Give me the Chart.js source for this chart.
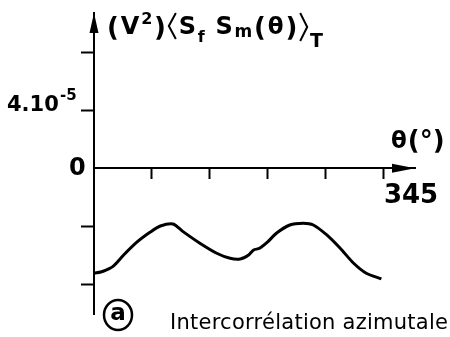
<!DOCTYPE html>
<html>
<head>
<meta charset="utf-8">
<script src="https://cdn.jsdelivr.net/npm/chart.js@4.4.1/dist/chart.umd.min.js"></script>
<style>
html,body{margin:0;padding:0;background:#fff}
#wrap{width:450px;height:337px;position:relative}
</style>
</head>
<body>
<div id="wrap"><canvas id="chart"></canvas></div>
<script>
// theta in degrees, correlation in units of 1e-5 (V^2)
let thetaDeg=[0,11,23,35,51,67,79,94,106,126,146,162,174,184,190,197,207,217,233,249,261,277,293,309,324,342]
let corr=[-7.25,-7.1,-6.75,-6.0,-5.1,-4.4,-3.98,-3.84,-4.37,-5.17,-5.86,-6.21,-6.26,-5.98,-5.63,-5.52,-5.06,-4.48,-3.91,-3.79,-3.91,-4.6,-5.52,-6.55,-7.24,-7.63]

let xStep=69
let xTickLabel=345
let yStep=4
let yTickLabel=4   // shown as 4.10^-5

let FONT="DejaVu Sans"

function setFont(ctx,size,weight){
ctx.font=(weight||"bold")+" "+size+"px '"+FONT+"'"
}
function txt(ctx,s,x,y,size,weight){
setFont(ctx,size,weight)
ctx.fillText(s,x,y)
return ctx.measureText(s).width
}

/* arrows, titles and caption */
let deco={
id:"deco",
afterDraw(chart){
let ctx=chart.ctx
let xs=chart.scales.x, ys=chart.scales.y
let x0=xs.getPixelForValue(0), y0=ys.getPixelForValue(0)
let top=chart.chartArea.top, right=chart.chartArea.right
ctx.save()
ctx.fillStyle="#000"
ctx.strokeStyle="#000"
ctx.textBaseline="alphabetic"
ctx.textAlign="left"

// arrow heads
ctx.beginPath()
ctx.moveTo(x0,top)
ctx.lineTo(x0-4.5,top+20)
ctx.lineTo(x0+4.5,top+20)
ctx.closePath()
ctx.fill()
ctx.beginPath()
ctx.moveTo(right,y0)
ctx.lineTo(right-23,y0-4.5)
ctx.lineTo(right-23,y0+4.5)
ctx.closePath()
ctx.fill()

// y title (V2)<Sf Sm(theta)>T, laid out piece by piece
let parts=[
["(",26,36],["V",24,34],["2",16,24],[")",26,36],["<",0,0],
["S",24,34],["f",16,42],["  ",10,0],["S",24,34],["m",17,37],
["(",26,36],["θ",23,34],[")",26,36],[">",0,0],["T",19,47]]
let total=0
parts.forEach(p=>{
if(p[0]==="<"||p[0]===">"){total+=9;return}
setFont(ctx,p[1]);total+=ctx.measureText(p[0]).width
})
let gap=(216-total)/(parts.length-1)
let px=107
ctx.lineWidth=2
parts.forEach(p=>{
if(p[0]==="<"){
ctx.beginPath();ctx.moveTo(px+8,13);ctx.lineTo(px+1,26);ctx.lineTo(px+8,39);ctx.stroke()
px+=9+gap;return
}
if(p[0]===">"){
ctx.beginPath();ctx.moveTo(px+1,13);ctx.lineTo(px+8,27);ctx.lineTo(px+1,41);ctx.stroke()
px+=9+gap;return
}
px+=txt(ctx,p[0],px,p[2],p[1])+gap
})

// x title
let w1=txt(ctx,"θ",391,148,23)
txt(ctx,"(°)",391+w1+1,149,26)

// y tick label 4.10^-5
let yl=ys.getPixelForValue(yTickLabel)
txt(ctx,"4.10",7,yl+1,21)
txt(ctx,"-5",60,yl-10,15)

// circled a
ctx.lineWidth=2.5
ctx.beginPath()
ctx.ellipse(118,315,14,15,0,0,Math.PI*2)
ctx.stroke()
ctx.textAlign="center"
ctx.textBaseline="middle"
txt(ctx,"a",118,314,23,"600")

// caption
ctx.textAlign="left"
ctx.textBaseline="alphabetic"
let cap="Intercorrélation azimutale"
setFont(ctx,21,"normal")
let w=ctx.measureText(cap).width
ctx.letterSpacing=((278-w)/(cap.length-1))+"px"
ctx.fillText(cap,170,329)
ctx.restore()
}
}

new Chart(document.getElementById("chart"),{
type:"line",
data:{
datasets:[{
data:thetaDeg.map((t,i)=>({x:t,y:corr[i]})),
borderColor:"#000",
borderWidth:3,
pointRadius:0,
tension:0.25,
fill:false
}]
},
options:{
responsive:true,
maintainAspectRatio:false,
animation:false,
layout:{padding:{left:94,right:35,top:13,bottom:23}},
plugins:{legend:{display:false},tooltip:{enabled:false}},
scales:{
x:{
type:"linear",
min:0,max:382,
position:{y:0},
border:{color:"#000",width:2},
grid:{drawOnChartArea:false,tickLength:10,tickWidth:2,
tickColor:c=>(c.tick&&c.tick.value===0)?"rgba(0,0,0,0)":"#000"},
ticks:{stepSize:xStep,includeBounds:false,autoSkip:false,maxRotation:0,
align:"start",padding:2,color:"#000",
font:{family:FONT,weight:"bold",size:26},
callback:v=>v===xTickLabel?String(xTickLabel):""},
afterFit:s=>{s.height=0;s.paddingLeft=0;s.paddingRight=0}
},
y:{
type:"linear",
min:-10.05,max:10.71,
position:{x:0},
border:{color:"#000",width:2},
grid:{drawOnChartArea:false,tickLength:12,tickWidth:2,
tickColor:c=>(c.tick&&c.tick.value===0)?"rgba(0,0,0,0)":"#000"},
ticks:{stepSize:yStep,includeBounds:false,padding:0,color:"#000",
font:{family:FONT,weight:"bold",size:24},
callback:v=>v===0?"0 ":""},
afterFit:s=>{s.width=0;s.paddingTop=0;s.paddingBottom=0}
}
}
},
plugins:[deco]
})
</script>
</body>
</html>
